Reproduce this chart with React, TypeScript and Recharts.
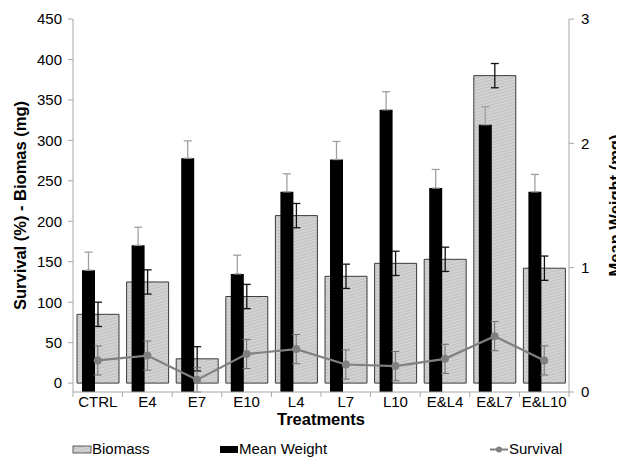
import {
  ComposedChart,
  Bar,
  Line,
  XAxis,
  YAxis,
  ErrorBar,
  Legend,
  Label,
} from 'recharts';

const treatments = ['CTRL', 'E4', 'E7', 'E10', 'L4', 'L7', 'L10', 'E&L4', 'E&L7', 'E&L10'];
const biomass = [85, 125, 30, 107, 207, 132, 148, 153, 380, 142];
const biomassErr = [15, 15, 15, 15, 15, 15, 15, 15, 15, 15];
const meanWeight = [0.98, 1.18, 1.88, 0.95, 1.61, 1.87, 2.27, 1.64, 2.15, 1.61];
const meanWeightErr = [0.145, 0.145, 0.14, 0.15, 0.145, 0.145, 0.145, 0.15, 0.145, 0.14];
const survival = [28, 34, 4, 36, 42, 23, 21, 30, 58, 28];
const survivalErr = [18, 18, 15, 18, 18, 18, 18, 18, 18, 18];

const leftTicks = [0, 50, 100, 150, 200, 250, 300, 350, 400, 450];
const rightTicks = [0, 1, 2, 3];

const data = treatments.map((name, i) => ({
  name,
  biomass: biomass[i],
  biomassErr: biomassErr[i],
  weight: meanWeight[i],
  weightErr: [0, meanWeightErr[i]],
  survival: survival[i],
  survivalErr: survivalErr[i],
}));

const FONT = '"Liberation Sans", Arial, sans-serif';
const AXIS = '#a6a6a6';

function CategoryTick(props: any) {
  const { x, y, payload, index, visibleTicksCount } = props;
  const half = payload.offset ?? 24.8;
  const last = index === visibleTicksCount - 1;
  return (
    <g>
      <line x1={x - half} x2={x - half} y1={y - 8} y2={y - 3} stroke={AXIS} />
      {last && <line x1={x + half} x2={x + half} y1={y - 8} y2={y - 3} stroke={AXIS} />}
      <text x={x} y={y + 7} textAnchor="middle" fontSize={15} fontFamily={FONT} fill="#000">
        {payload.value}
      </text>
    </g>
  );
}

function ChartLegend() {
  return (
    <svg width={624} height={29} style={{ display: 'block' }}>
      <rect x={73} y={18} width={18} height={7} fill="url(#hatch)" stroke="#3a3a3a" strokeWidth={0.8} />
      <text x={92} y={26} fontSize={15} fontFamily={FONT}>Biomass</text>
      <rect x={220} y={18} width={18} height={7} fill="#000" />
      <text x={239} y={26} fontSize={15} fontFamily={FONT}>Mean Weight</text>
      <line x1={490} x2={508} y1={21.5} y2={21.5} stroke="#808080" strokeWidth={2} />
      <circle cx={499} cy={21.5} r={3} fill="#808080" />
      <text x={509} y={26} fontSize={15} fontFamily={FONT}>Survival</text>
    </svg>
  );
}

export default function App() {
  return (
    <div style={{ margin: '-8px -8px 0 -8px', fontFamily: FONT }}>
      <ComposedChart
        width={624}
        height={457}
        data={data}
        margin={{ top: 19, right: 0, bottom: 0, left: 0 }}
      >
        <defs>
          <pattern id="hatch" width={3} height={3} patternUnits="userSpaceOnUse" patternTransform="rotate(75)">
            <rect width={3} height={3} fill="#d2d2d2" />
            <line x1={0} y1={0} x2={0} y2={3} stroke="#b0b0b0" strokeWidth={1} />
          </pattern>
        </defs>
        <XAxis
          xAxisId="a"
          dataKey="name"
          height={31}
          axisLine={{ stroke: AXIS }}
          tickLine={false}
          tick={<CategoryTick />}
          interval={0}
        >
          <Label
            value="Treatments"
            position="bottom"
            offset={-10}
            style={{ fontSize: 16.5, fontWeight: 'bold', fontFamily: FONT, fill: '#000' }}
          />
        </XAxis>
        <XAxis xAxisId="b" dataKey="name" hide padding={{ left: -9, right: 9 }} />
        <YAxis
          yAxisId="left"
          width={73}
          domain={[0, 450]}
          ticks={leftTicks}
          interval={0}
          axisLine={{ stroke: AXIS }}
          tickLine={{ stroke: AXIS }}
          tickSize={5}
          tickMargin={6}
          tick={{ fontSize: 15, fill: '#000', fontFamily: FONT }}
        >
          <Label
            value="Survival (%) - Biomas (mg)"
            angle={-90}
            position="center"
            dx={-16.5}
            style={{ textAnchor: 'middle', fontSize: 16.5, fontWeight: 'bold', fontFamily: FONT, fill: '#000' }}
          />
        </YAxis>
        <YAxis
          yAxisId="right"
          orientation="right"
          width={55}
          domain={[0, 3]}
          ticks={rightTicks}
          interval={0}
          axisLine={{ stroke: AXIS }}
          tickLine={{ stroke: AXIS }}
          tickSize={5}
          tickMargin={7}
          tick={{ fontSize: 15, fill: '#000', fontFamily: FONT }}
        >
          <Label
            value="Mean Weight (mg)"
            angle={-90}
            position="center"
            dx={19}
            style={{ textAnchor: 'middle', fontSize: 16.5, fontWeight: 'bold', fontFamily: FONT, fill: '#000' }}
          />
        </YAxis>
        <Legend
          verticalAlign="bottom"
          content={<ChartLegend />}
          wrapperStyle={{ left: 0, top: 428, bottom: 'auto', width: 624, height: 34 }}
        />
        <Bar
          xAxisId="a"
          yAxisId="left"
          dataKey="biomass"
          name="Biomass"
          barSize={42}
          fill="url(#hatch)"
          stroke="#3a3a3a"
          strokeWidth={1}
          isAnimationActive={false}
        >
          <ErrorBar dataKey="biomassErr" width={4} stroke="#111" strokeWidth={1.3} />
        </Bar>
        <Bar
          xAxisId="b"
          yAxisId="right"
          dataKey="weight"
          name="Mean Weight"
          barSize={13}
          fill="#000"
          isAnimationActive={false}
        >
          <ErrorBar dataKey="weightErr" width={4} stroke="#a0a0a0" strokeWidth={1.3} />
        </Bar>
        <Line
          xAxisId="a"
          yAxisId="left"
          dataKey="survival"
          name="Survival"
          stroke="#808080"
          strokeWidth={2.2}
          dot={{ r: 4, fill: '#808080', stroke: '#808080', strokeWidth: 0 }}
          isAnimationActive={false}
        >
          <ErrorBar dataKey="survivalErr" width={4} stroke="#707070" strokeWidth={1} />
        </Line>
      </ComposedChart>
    </div>
  );
}
